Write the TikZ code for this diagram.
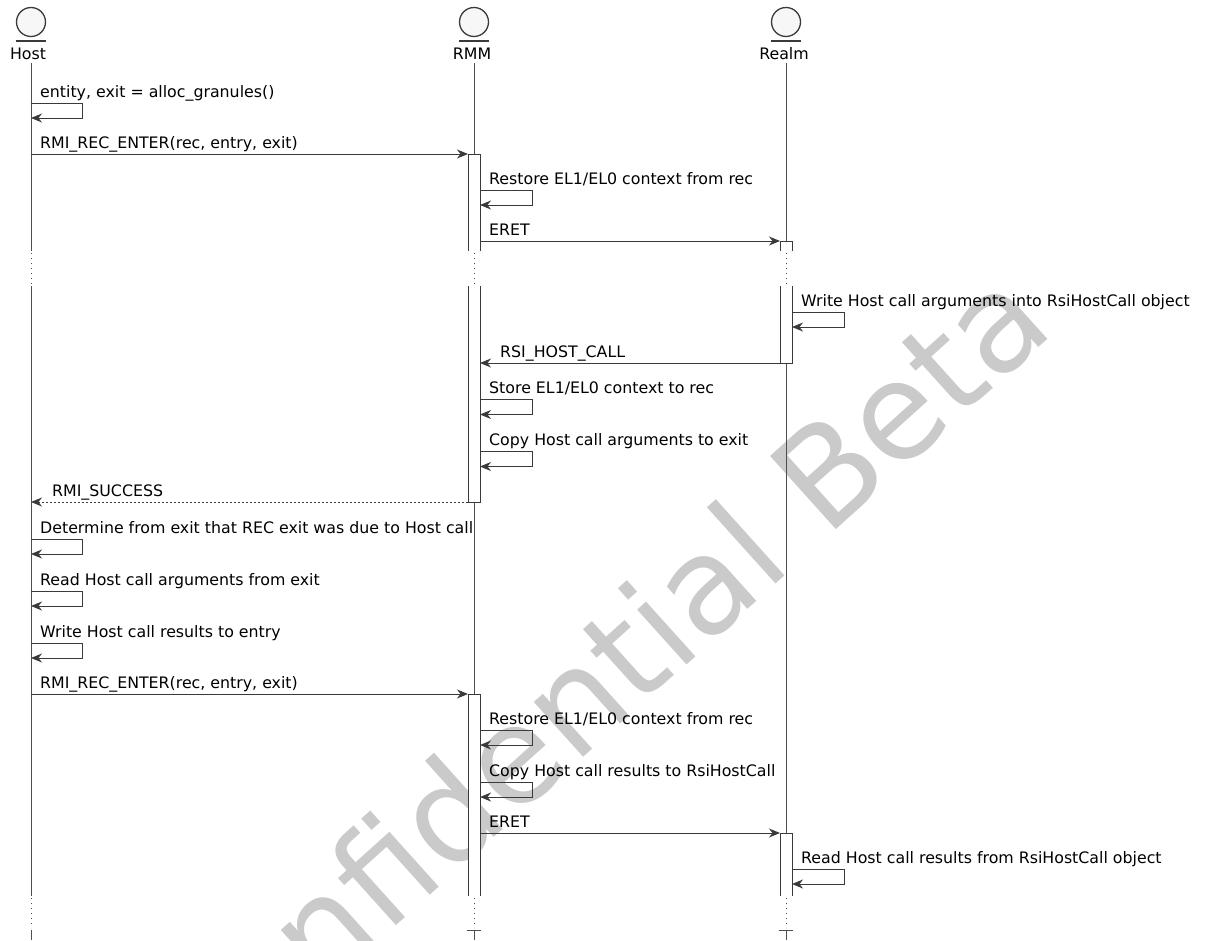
\documentclass[tikz,border=0pt]{standalone}
\usepackage{fontspec}
\setmainfont{DejaVu Sans}
\usetikzlibrary{arrows.meta}
\definecolor{ln}{HTML}{3A3A3A}
\definecolor{wm}{HTML}{CACACA}
\begin{document}
\begin{tikzpicture}[x=1pt,y=-1pt,
  lifeline/.style={draw=ln!90, line width=0.9pt},
  brk/.style={draw=ln!90, line width=0.9pt, dash pattern=on 1pt off 4pt},
  act/.style={draw=ln, fill=white, line width=1pt},
  msg/.style={draw=ln, line width=1pt, -{Stealth[length=11pt,width=9pt,inset=3.5pt]}},
  ret/.style={msg, dash pattern=on 2pt off 2pt},
  lbl/.style={font=\fontsize{15.8}{18}\selectfont, inner sep=0pt, anchor=base west, text=black},
  actorhead/.style={circle, draw=ln, fill=gray!6, line width=1.3pt, minimum size=29pt, inner sep=0pt},
  actorname/.style={font=\fontsize{15.8}{18}\selectfont, inner sep=0pt, anchor=base},
  wmark/.style={text=wm, font=\fontsize{135}{135}\selectfont, rotate=42, anchor=base, inner sep=0pt}
]
\useasboundingbox (0,0) rectangle (1210,940);
\fill[white] (0,0) rectangle (1210,940);

% watermark
\node[wmark] (wm) at (624,721) {Confidential Beta};

% actors
\foreach \n/\x/\tx/\t in {host/31/28/Host, rmm/474/472/RMM, realm/786/784/Realm}{
  \node[actorhead] (\n) at (\x,22) {};
  \draw[ln, line width=1.3pt] (\x-15,41) -- (\x+15,41);
  \node[actorname] (\n name) at (\tx,59) {\t};
  \coordinate (\n l0) at (\x,63);
  \coordinate (\n l1) at (\x,251);
  \coordinate (\n l2) at (\x,253);
  \coordinate (\n l3) at (\x,284);
  \coordinate (\n l4) at (\x,286);
  \coordinate (\n l5) at (\x,896);
  \coordinate (\n l6) at (\x,898);
  \coordinate (\n l7) at (\x,928);
  \coordinate (\n l8) at (\x,930);
  \coordinate (\n l9) at (\x,940);
  \draw[lifeline] (\n l0) -- (\n l1);
  \draw[brk] (\n l2) -- (\n l3);
  \draw[lifeline] (\n l4) -- (\n l5);
  \draw[brk] (\n l6) -- (\n l7);
  \draw[lifeline] (\n l8) -- (\n l9);
}
\draw[lifeline] (467,930) -- (481,930);
\draw[lifeline] (779,930) -- (793,930);

% activation boxes
\filldraw[act] (468,251) -- (468,154) -- (480,154) -- (480,251);
\filldraw[act] (468,286) -- (468,502) -- (480,502) -- (480,286);
\filldraw[act] (780,251) -- (780,241) -- (792,241) -- (792,251);
\filldraw[act] (780,286) -- (780,363) -- (792,363) -- (792,286);
\filldraw[act] (468,896) -- (468,694) -- (480,694) -- (480,896);
\filldraw[act] (780,896) -- (780,833) -- (792,833) -- (792,896);

% message endpoints
\coordinate (m1a) at (31,103);   \coordinate (m1b) at (31,118);
\coordinate (m2a) at (31,154);   \coordinate (m2b) at (468,154);
\coordinate (m3a) at (480,190);  \coordinate (m3b) at (480,205);
\coordinate (m4a) at (480,241);  \coordinate (m4b) at (780,241);
\coordinate (m5a) at (792,312);  \coordinate (m5b) at (792,327);
\coordinate (m6a) at (780,363);  \coordinate (m6b) at (480,363);
\coordinate (m7a) at (480,399.5);\coordinate (m7b) at (480,414.5);
\coordinate (m8a) at (480,451.5);\coordinate (m8b) at (480,466.5);
\coordinate (m9a) at (468,502);  \coordinate (m9b) at (31,502);
\coordinate (m10a) at (31,539);  \coordinate (m10b) at (31,554);
\coordinate (m11a) at (31,591);  \coordinate (m11b) at (31,606);
\coordinate (m12a) at (31,643);  \coordinate (m12b) at (31,658);
\coordinate (m13a) at (31,694);  \coordinate (m13b) at (468,694);
\coordinate (m14a) at (480,730); \coordinate (m14b) at (480,745);
\coordinate (m15a) at (480,782); \coordinate (m15b) at (480,797);
\coordinate (m16a) at (480,833); \coordinate (m16b) at (780,833);
\coordinate (m17a) at (792,869); \coordinate (m17b) at (792,884);

% messages
\draw[msg] (m1a) -- ++(51,0) |- (m1b);
\node[lbl] (t1) at (40,97) {entity, exit = alloc\_granules()};
\draw[msg] (m2a) -- (m2b);
\node[lbl] (t2) at (40,148) {RMI\_REC\_ENTER(rec, entry, exit)};
\draw[msg] (m3a) -- ++(52,0) |- (m3b);
\node[lbl] (t3) at (489,184) {Restore EL1/EL0 context from rec};
\draw[msg] (m4a) -- (m4b);
\node[lbl] (t4) at (489,235) {ERET};
\draw[msg] (m5a) -- ++(52,0) |- (m5b);
\node[lbl] (t5) at (801,306) {Write Host call arguments into RsiHostCall object};
\draw[msg] (m6a) -- (m6b);
\node[lbl] (t6) at (500,357) {RSI\_HOST\_CALL};
\draw[msg] (m7a) -- ++(52,0) |- (m7b);
\node[lbl] (t7) at (489,393.5) {Store EL1/EL0 context to rec};
\draw[msg] (m8a) -- ++(52,0) |- (m8b);
\node[lbl] (t8) at (489,445.5) {Copy Host call arguments to exit};
\draw[ret] (m9a) -- (m9b);
\node[lbl] (t9) at (52,496) {RMI\_SUCCESS};
\draw[msg] (m10a) -- ++(51,0) |- (m10b);
\node[lbl] (t10) at (40,533) {Determine from exit that REC exit was due to Host call};
\draw[msg] (m11a) -- ++(51,0) |- (m11b);
\node[lbl] (t11) at (40,585) {Read Host call arguments from exit};
\draw[msg] (m12a) -- ++(51,0) |- (m12b);
\node[lbl] (t12) at (40,637) {Write Host call results to entry};
\draw[msg] (m13a) -- (m13b);
\node[lbl] (t13) at (40,688) {RMI\_REC\_ENTER(rec, entry, exit)};
\draw[msg] (m14a) -- ++(52,0) |- (m14b);
\node[lbl] (t14) at (489,724) {Restore EL1/EL0 context from rec};
\draw[msg] (m15a) -- ++(52,0) |- (m15b);
\node[lbl] (t15) at (489,776) {Copy Host call results to RsiHostCall};
\draw[msg] (m16a) -- (m16b);
\node[lbl] (t16) at (489,827) {ERET};
\draw[msg] (m17a) -- ++(52,0) |- (m17b);
\node[lbl] (t17) at (801,863) {Read Host call results from RsiHostCall object};
\end{tikzpicture}
\end{document}
